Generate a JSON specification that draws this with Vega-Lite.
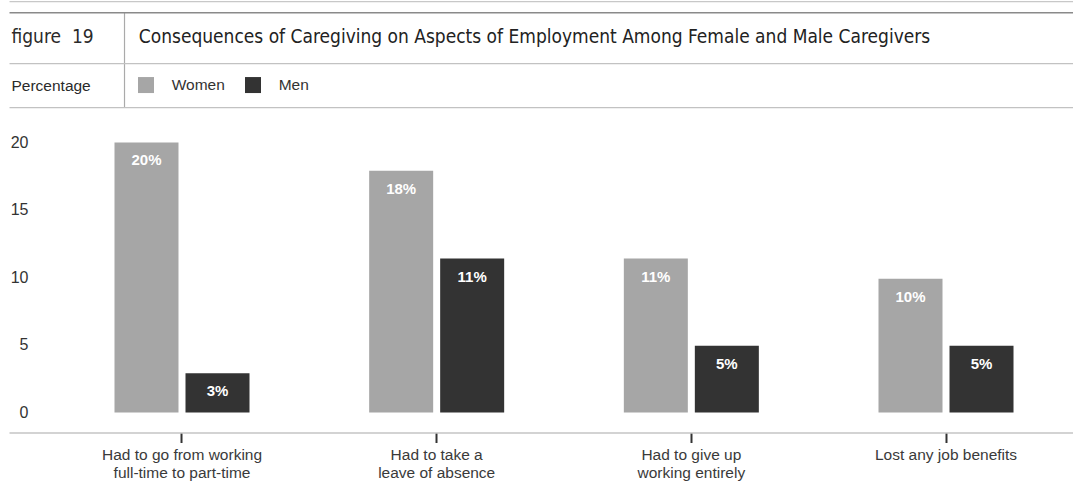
{
  "$schema": "https://vega.github.io/schema/vega-lite/v6.json",
  "background": "white",
  "padding": {"left": 8, "top": 1.2, "right": 0, "bottom": 0},
  "bounds": "flush",
  "spacing": 35.3,
  "config": {"view": {"stroke": null}, "font": "Liberation Sans"},
  "datasets": {
    "table": [
      {"category": "Had to go from working full-time to part-time", "gender": "Women", "value": 20, "label": "20%"},
      {"category": "Had to go from working full-time to part-time", "gender": "Men", "value": 2.9, "label": "3%"},
      {"category": "Had to take a leave of absence", "gender": "Women", "value": 17.9, "label": "18%"},
      {"category": "Had to take a leave of absence", "gender": "Men", "value": 11.4, "label": "11%"},
      {"category": "Had to give up working entirely", "gender": "Women", "value": 11.4, "label": "11%"},
      {"category": "Had to give up working entirely", "gender": "Men", "value": 4.95, "label": "5%"},
      {"category": "Lost any job benefits", "gender": "Women", "value": 9.9, "label": "10%"},
      {"category": "Lost any job benefits", "gender": "Men", "value": 4.95, "label": "5%"}
    ]
  },
  "resolve": {"scale": {"color": "independent"}, "legend": {"color": "independent"}},
  "vconcat": [
    {
      "width": 1065,
      "height": 95,
      "data": {"name": "table"},
      "mark": {"type": "square", "opacity": 0, "size": 1},
      "encoding": {
        "x": {
          "datum": 0,
          "type": "quantitative",
          "scale": {"domain": [0, 1065], "nice": false, "zero": false},
          "axis": {"orient": "top", "offset": 11, "values": [114.7], "grid": true, "gridColor": "#aaaaaa", "gridWidth": 1.2, "domain": true, "domainColor": "#c8c8c8", "domainWidth": 1.2, "ticks": false, "labels": false, "title": null}
        },
        "y": {
          "datum": 0,
          "type": "quantitative",
          "scale": {"domain": [0, 95], "reverse": true, "nice": false, "zero": false},
          "axis": {
            "values": [0, 50.6, 95],
            "grid": true,
            "gridColor": {"condition": {"test": "datum.value == 0", "value": "#8a8a8a"}, "value": "#c2c2c2"},
            "gridWidth": {"condition": {"test": "datum.value == 0", "value": 1.6}, "value": 1.2},
            "domain": false,
            "ticks": false,
            "tickSize": 0,
            "labelExpr": "datum.value == 0 ? 'figure\u00a0 19' : (datum.value == 50.6 ? 'Percentage' : '')",
            "labelAlign": "left",
            "labelBaseline": "alphabetic",
            "labelPadding": -2,
            "labelOffset": {"condition": {"test": "datum.value == 0", "value": 30}, "value": 28},
            "labelFontSize": {"condition": {"test": "datum.value == 0", "value": 19}, "value": 15.5},
            "labelFont": {"condition": {"test": "datum.value == 0", "value": "DejaVu Sans Condensed, Roboto Condensed, Liberation Sans"}, "value": "Liberation Sans"},
            "labelColor": "#2a2a2a",
            "labelOverlap": false,
            "labelFlush": false,
            "labelBound": false,
            "title": "Consequences of Caregiving on Aspects of Employment Among Female and Male Caregivers",
            "titleAngle": 0,
            "titleAlign": "left",
            "titleBaseline": "alphabetic",
            "titleX": 129.3,
            "titleY": 30,
            "titleFontSize": 19,
            "titleFont": "DejaVu Sans Condensed, Roboto Condensed, Liberation Sans",
            "titleFontWeight": "normal",
            "titleColor": "#222222"
          }
        },
        "color": {
          "field": "gender",
          "type": "nominal",
          "scale": {"domain": ["Women", "Men"], "range": ["#a6a6a6", "#333333"]},
          "legend": {
            "orient": "none",
            "legendX": 129,
            "legendY": 64.6,
            "direction": "horizontal",
            "title": null,
            "symbolType": "square",
            "symbolSize": 256,
            "symbolOpacity": 1,
            "symbolStrokeWidth": 0,
            "labelFontSize": 15.5,
            "labelColor": "#333333",
            "labelOffset": 17.7,
            "columnPadding": 20,
            "padding": 0,
            "labelFont": "Liberation Sans"
          }
        }
      }
    },
    {
      "width": 1065,
      "height": 270,
      "data": {"name": "table"},
      "encoding": {
        "x": {
          "field": "category",
          "type": "nominal",
          "sort": null,
          "scale": {"paddingInner": 0, "paddingOuter": 0.0909, "align": 0.986},
          "axis": {
            "orient": "bottom",
            "offset": 20,
            "title": null,
            "domainColor": "#c4c4c4",
            "domainWidth": 1.6,
            "tickColor": "#333333",
            "tickWidth": 2,
            "tickSize": 10,
            "labelAngle": 0,
            "labelFontSize": 15.5,
            "labelColor": "#3a3a3a",
            "labelPadding": 5,
            "labelBaseline": "top",
            "labelLineHeight": 18,
            "labelFont": "Liberation Sans",
            "labelExpr": "datum.label == 'Had to go from working full-time to part-time' ? ['Had to go from working', 'full-time to part-time'] : (datum.label == 'Had to take a leave of absence' ? ['Had to take a', 'leave of absence'] : (datum.label == 'Had to give up working entirely' ? ['Had to give up', 'working entirely'] : datum.label))"
          }
        },
        "xOffset": {
          "field": "gender",
          "type": "nominal",
          "sort": ["Women", "Men"],
          "scale": {"paddingInner": 0.0986, "paddingOuter": 0.8426}
        },
        "y": {
          "field": "value",
          "type": "quantitative",
          "scale": {"domain": [0, 20], "nice": false},
          "axis": {
            "values": [0, 5, 10, 15, 20],
            "title": null,
            "domain": false,
            "ticks": false,
            "tickSize": 0,
            "grid": false,
            "labelAlign": "right",
            "labelBaseline": "middle",
            "labelPadding": -19,
            "labelFontSize": 16,
            "labelColor": "#333333",
            "labelFont": "Liberation Sans",
            "labelFlush": false
          }
        }
      },
      "layer": [
        {
          "mark": {"type": "bar"},
          "encoding": {
            "color": {
              "field": "gender",
              "type": "nominal",
              "scale": {"domain": ["Women", "Men"], "range": ["#a6a6a6", "#333333"]},
              "legend": null
            }
          }
        },
        {
          "mark": {"type": "text", "color": "white", "fontWeight": "bold", "fontSize": 15, "baseline": "alphabetic", "dy": 23, "align": "center", "font": "Liberation Sans"},
          "encoding": {"text": {"field": "label", "type": "nominal"}}
        }
      ]
    }
  ]
}
